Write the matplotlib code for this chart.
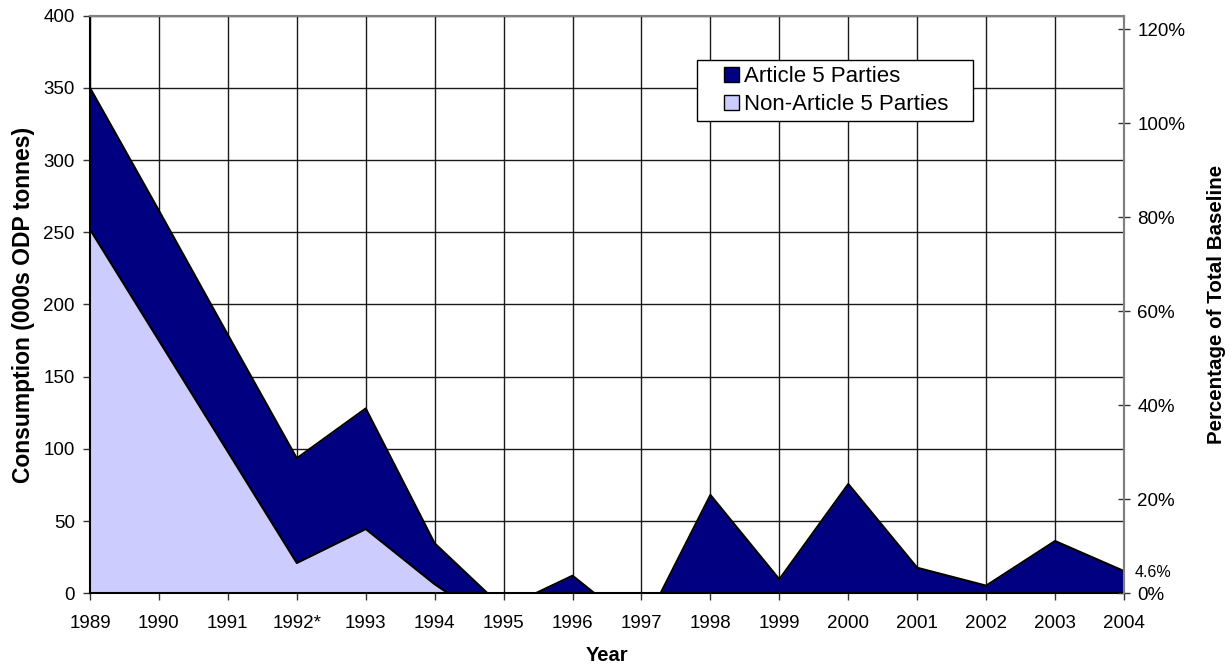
import matplotlib.pyplot as plt
from matplotlib.lines import Line2D
from matplotlib.ticker import FuncFormatter
import numpy as np

plt.rcParams['font.family'] = ['Liberation Sans', 'DejaVu Sans']

# years on the category axis
years = ['1989', '1990', '1991', '1992*', '1993', '1994', '1995', '1996',
         '1997', '1998', '1999', '2000', '2001', '2002', '2003', '2004']
# consumption, 000s ODP tonnes (negative = net exports, clipped by the axis)
non_article5 = [252, 175, 98, 21, 44.5, 6.3, -26, -4, -22, -3, -2, -1, -1, -1, 0, 0]
article5 = [98, 90, 81, 72.5, 83.5, 28.3, 15.5, 16.2, -4, 71.1, 11.7, 76.7, 18.7, 6.3, 36.2, 15.4]
baseline = 325.5  # total baseline, 000s ODP tonnes
last_pct = '4.6%'

navy = '#000080'
lilac = '#CCCCFF'

x = np.arange(len(years))
low = np.array(non_article5)
top = low + np.array(article5)

fig = plt.figure(figsize=(12.32, 6.66), dpi=100)
ax = fig.add_axes([90 / 1232, 1 - 593.3 / 666, 1034 / 1232, 577.6 / 666])

ax.fill_between(x, 0, low, color=lilac, lw=0, zorder=2)
ax.fill_between(x, low, top, color=navy, lw=0, zorder=2)
ax.plot(x, low, color='black', lw=1.5, zorder=3)
ax.plot(x, top, color='black', lw=1.5, zorder=3)

ax.set_xlim(0, len(years) - 1)
ax.set_ylim(0, 400)
ax.set_xticks(x)
ax.set_xticklabels(years)
ax.set_yticks(np.arange(0, 401, 50))
ax.grid(True, color='#1a1a1a', lw=1.0)
ax.set_axisbelow(True)
ax.tick_params(axis='both', labelsize=13.5, direction='out', length=5, width=1, color='#333333')
ax.tick_params(axis='x', pad=10.5)
ax.tick_params(axis='y', pad=6)

for side in ['left', 'bottom']:
    ax.spines[side].set_color('black')
    ax.spines[side].set_linewidth(1.5)
for side in ['top', 'right']:
    ax.spines[side].set_color('#808080')
    ax.spines[side].set_linewidth(1.5)

ax.set_xlabel('Year', fontsize=14.5, fontweight='bold', labelpad=10)
ax.set_ylabel('Consumption (000s ODP tonnes)', fontsize=16.5, fontweight='bold', labelpad=6)

ax2 = ax.twinx()
ax2.set_ylim(0, 400 / baseline)
ax2.set_yticks(np.arange(0, 1.21, 0.2))
ax2.yaxis.set_major_formatter(FuncFormatter(lambda v, p: f'{v * 100:.0f}%'))
ax2.tick_params(axis='y', labelsize=13.5, direction='inout', length=9, width=1, color='#333333', pad=5)
for side in ['left', 'bottom', 'top']:
    ax2.spines[side].set_visible(False)
ax2.spines['right'].set_color('#808080')
ax2.spines['right'].set_linewidth(1.5)
ax2.set_ylabel('Percentage of Total Baseline', fontsize=14.8, fontweight='bold', labelpad=16)

ax.annotate(last_pct, xy=(x[-1], top[-1]), xytext=(8, -1), textcoords='offset points',
            fontsize=11.5, va='center', ha='left', annotation_clip=False)

handles = [Line2D([], [], ls='none', marker='s', markersize=10.8, markerfacecolor=navy,
                  markeredgecolor='black', markeredgewidth=1, label='Article 5 Parties'),
           Line2D([], [], ls='none', marker='s', markersize=10.8, markerfacecolor=lilac,
                  markeredgecolor='black', markeredgewidth=1, label='Non-Article 5 Parties')]
leg = ax.legend(handles=handles, loc='upper left', mode='expand',
                bbox_to_anchor=(0.587, 0.8194, 0.267, 0.1039), numpoints=1,
                fontsize=16, frameon=True, fancybox=False, framealpha=1,
                edgecolor='black', handlelength=2.5, handletextpad=-0.66,
                borderpad=0.28, labelspacing=0.3, borderaxespad=0)
leg.get_frame().set_linewidth(1.0)
leg.set_zorder(10)

plt.savefig('out.png', dpi=100)
